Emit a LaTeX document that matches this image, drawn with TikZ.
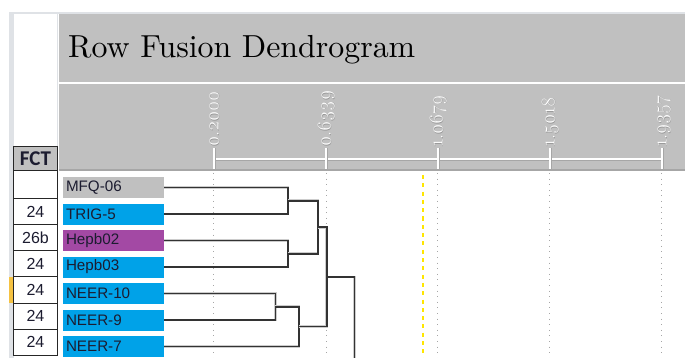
\documentclass[tikz,border=0pt]{standalone}
\usepackage{fontspec}
\usepackage{graphicx}
\newfontfamily\lsans{Liberation Sans}
\newfontfamily\carl{Carlito}
\newfontfamily\osf{Latin Modern Roman}[Numbers=OldStyle]
\definecolor{panel}{HTML}{C0C0C0}
\definecolor{panelline}{HTML}{A6A6A6}
\definecolor{gridgray}{HTML}{DFE2E6}
\definecolor{hl}{HTML}{F5C242}
\definecolor{lgray}{HTML}{C0C0C0}
\definecolor{lblue}{HTML}{00A2E8}
\definecolor{lpurple}{HTML}{A349A4}
\definecolor{ink}{HTML}{1C1C30}
\definecolor{linkc}{HTML}{333333}
\definecolor{yel}{HTML}{FFE600}
\tikzset{
  cellbox/.style={draw=black!85, line width=0.8pt, minimum width=44pt, inner sep=0pt, outer sep=0pt, font=\lsans\fontsize{16}{16}\selectfont, text=ink},
  lbl/.style={anchor=west, minimum height=22pt, text width=94pt, inner sep=0pt, inner xsep=4pt, outer sep=0pt, draw=white, line width=0.6pt, font=\lsans\fontsize{15.2}{15}\selectfont, text=ink, align=left},
  link/.style={draw=linkc, line width=1.6pt, preaction={draw=black!20, line width=2.8pt}},
  axisw/.style={draw=white, line width=1.2pt},
  axshadow/.style={draw=black!35, line width=1.2pt},
  gline/.style={draw=black!35, line width=0.9pt, dash pattern=on 0.9pt off 4.7pt},
  yline/.style={draw=yel, line width=1.3pt, dash pattern=on 4pt off 4.3pt},
  axlbl/.style={rotate=90, anchor=base west, inner sep=0pt, font=\osf\fontsize{19.5}{20}\selectfont}
}
\begin{document}
\begin{tikzpicture}[x=1pt,y=-1pt]
\fill[white] (0,0) rectangle (685,358);
\useasboundingbox (0,0) rectangle (685,358);
% spreadsheet grid
\fill[gridgray] (9,13) rectangle (13.5,358);
\draw[gridgray, line width=1.2pt] (9,13) -- (685,13);
\fill[hl] (9,276.8) rectangle (13.5,302.9);
\draw[gridgray, line width=0.8pt] (57.5,13) -- (57.5,146);
% panels
\fill[panel] (59,14) rectangle (685,82.3);
\fill[panel] (59,84) rectangle (685,169.5);
\fill[panelline] (59,169.5) rectangle (685,171.5);
% title
\node[anchor=base west, inner sep=0pt, text=black] (title) at (68,57.5) {\resizebox{347pt}{!}{Row Fusion Dendrogram}};
% axis
\draw[axshadow] (214,160) -- (662,160);
\draw[axisw] (214,159) -- (662,159);
\foreach \x/\t in {214/0.2000, 326/0.6339, 438/1.0679, 550/1.5018, 662/1.9357}{
  \draw[axshadow] (\x+0.9,148) -- (\x+0.9,169.5);
  \draw[axisw] (\x,148) -- (\x,169.5);
  \node[axlbl, text=black!40] (axs\x) at (\x+5.2,147.5) {\t};
  \node[axlbl, text=white] (ax\x) at (\x+4.5,147) {\t};
}
% grid lines in plot
\foreach \x in {213.5, 326, 437.5, 549.5, 661.5}{
  \draw[gline] (\x,173) -- (\x,358);
}
\draw[yline] (423,175) -- (423,358);
% FCT column
\node[cellbox, fill=panel, minimum height=24.5pt, font=\carl\bfseries\fontsize{21}{22}\selectfont] (fct) at (35.5,158.2) {FCT};
\node[cellbox, minimum height=28.5pt] (c0) at (35.5,184.25) {};
\node[cellbox, minimum height=26.1pt] (c1) at (35.5,211.55) {24};
\node[cellbox, minimum height=26.1pt] (c2) at (35.5,237.65) {26b};
\node[cellbox, minimum height=26.1pt] (c3) at (35.5,263.75) {24};
\node[cellbox, minimum height=26.1pt] (c4) at (35.5,289.85) {24};
\node[cellbox, minimum height=26.1pt] (c5) at (35.5,315.95) {24};
\node[cellbox, minimum height=26.1pt] (c6) at (35.5,342.05) {24};
% row labels
\node[lbl, fill=lgray]   (l1) at (62,187.5) {MFQ-06};
\node[lbl, fill=lblue]   (l2) at (62,214)   {TRIG-5};
\node[lbl, fill=lpurple] (l3) at (62,240.5) {Hepb02};
\node[lbl, fill=lblue]   (l4) at (62,267)   {Hepb03};
\node[lbl, fill=lblue]   (l5) at (62,293.5) {NEER-10};
\node[lbl, fill=lblue]   (l6) at (62,320)   {NEER-9};
\node[lbl, fill=lblue]   (l7) at (62,346.5) {NEER-7};
% merge points
\coordinate (m1) at (288,200.75);
\coordinate (m3) at (288,253.75);
\coordinate (m12) at (318,227.25);
\coordinate (m4) at (275.3,306.75);
\coordinate (m5) at (299,326.6);
\coordinate (m6) at (326.7,276.9);
\coordinate (r1) at (354.3,276.9);
\coordinate (r2) at (354.3,358);
% dendrogram
\draw[link] (l1.east) -| (m1) |- (l2.east);
\draw[link] (l3.east) -| (m3) |- (l4.east);
\draw[link] (m1) -| (m12) |- (m3);
\draw[link] (l5.east) -| (m4) |- (l6.east);
\draw[link] (m4) -| (m5) |- (l7.east);
\draw[link] (m12) -| (m6) |- (m5);
\draw[link] (m6) -- (r1) -- (r2);
\end{tikzpicture}
\end{document}
